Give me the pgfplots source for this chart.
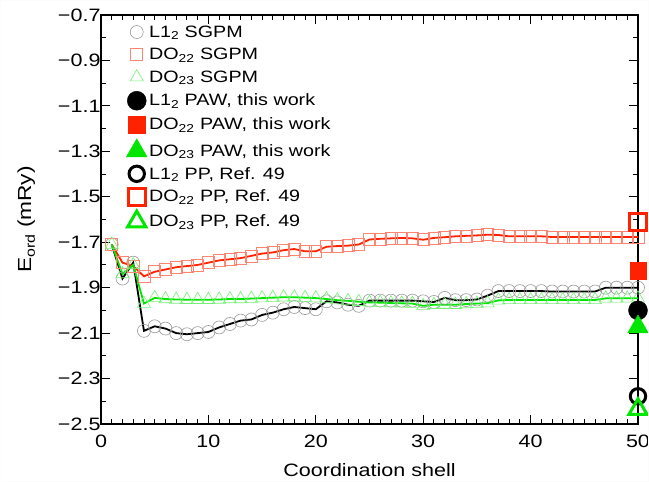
\documentclass[border=0pt]{standalone}
\usepackage{fontspec}
\setmainfont{Liberation Sans}[FakeStretch=1.2]
\usepackage{pgfplots}
\usepackage{pgfplotstable}
\pgfplotsset{compat=1.18}
\definecolor{myred}{RGB}{255,34,0}
\definecolor{mygreen}{RGB}{0,230,0}
\definecolor{edgecol}{RGB}{252,252,252}
\pgfplotstableread{
shell L12 DO22 DO23
1 -1.710 -1.710 -1.710
2 -1.860 -1.790 -1.840
3 -1.790 -1.805 -1.800
4 -2.090 -1.850 -1.970
5 -2.070 -1.830 -1.945
6 -2.080 -1.820 -1.950
7 -2.100 -1.810 -1.952
8 -2.105 -1.805 -1.953
9 -2.100 -1.800 -1.953
10 -2.095 -1.790 -1.953
11 -2.075 -1.780 -1.952
12 -2.060 -1.775 -1.950
13 -2.045 -1.770 -1.950
14 -2.040 -1.760 -1.948
15 -2.020 -1.750 -1.946
16 -2.010 -1.745 -1.944
17 -1.995 -1.735 -1.942
18 -1.985 -1.730 -1.942
19 -1.990 -1.740 -1.944
20 -1.995 -1.740 -1.946
21 -1.960 -1.720 -1.950
22 -1.965 -1.717 -1.955
23 -1.975 -1.715 -1.958
24 -1.980 -1.710 -1.962
25 -1.957 -1.688 -1.965
26 -1.957 -1.685 -1.966
27 -1.957 -1.683 -1.968
28 -1.957 -1.681 -1.969
29 -1.957 -1.683 -1.970
30 -1.960 -1.689 -1.980
31 -1.963 -1.681 -1.975
32 -1.945 -1.678 -1.975
33 -1.955 -1.674 -1.975
34 -1.955 -1.672 -1.972
35 -1.952 -1.670 -1.970
36 -1.935 -1.667 -1.968
37 -1.915 -1.668 -1.956
38 -1.915 -1.674 -1.954
39 -1.915 -1.674 -1.954
40 -1.915 -1.674 -1.954
41 -1.915 -1.674 -1.954
42 -1.917 -1.677 -1.954
43 -1.917 -1.677 -1.954
44 -1.917 -1.677 -1.954
45 -1.917 -1.677 -1.954
46 -1.917 -1.677 -1.954
47 -1.900 -1.677 -1.947
48 -1.900 -1.677 -1.947
49 -1.900 -1.677 -1.947
50 -1.900 -1.677 -1.947
}\sgpm
\begin{document}
\begin{tikzpicture}
\begin{axis}[
  scale only axis, width=537bp, height=409bp,
  xmin=0, xmax=50, ymin=-2.5, ymax=-0.7,
  clip=false,
  xtick={0,10,20,30,40,50},
  ytick={-2.5,-2.3,-2.1,-1.9,-1.7,-1.5,-1.3,-1.1,-0.9,-0.7},
  yticklabels={−2.5,−2.3,−2.1,−1.9,−1.7,−1.5,−1.3,−1.1,−0.9,−0.7},
  minor x tick num=9, minor y tick num=1,
  tick align=inside, major tick length=9bp, minor tick length=5bp,
  axis line style={line width=1.6bp},
  every tick/.style={line width=0.9bp, black},
  /pgf/number format/assume math mode=true,
  tick label style={font=\fontsize{18}{20}\selectfont},
  yticklabel style={xshift=3bp},
  xticklabel style={yshift=-7bp},
  xlabel style={font=\fontsize{18}{20}\selectfont, yshift=-12bp, inner sep=1bp},
  ylabel style={font=\fontsize{19}{21}\selectfont, yshift=16bp},
  xlabel={Coordination shell},
  ylabel={E\textsubscript{ord} (mRy)},
  legend style={draw=none, fill=none, at={(0.045,0.982)}, anchor=north west,
    font=\fontsize{16.5}{18.5}\selectfont, row sep=5.6bp, inner sep=1bp},
  legend cell align=left,
  legend image code/.code={\path[#1] plot coordinates {(0bp,0bp)};},
]
\coordinate (bbsw) at (rel axis cs:0,0);
\coordinate (bbne) at (rel axis cs:1,1);
% SGPM markers
\addplot[only marks, mark=o, mark size=6.5bp, color=black!40, mark options={line width=0.6bp}] table[x=shell,y=L12] {\sgpm};
\addlegendentry{L1\textsubscript{2} SGPM}
\addplot[only marks, mark=square, mark size=6bp, color=myred!55, mark options={line width=0.6bp}] table[x=shell,y=DO22] {\sgpm};
\addlegendentry{DO\textsubscript{22} SGPM}
\addplot[only marks, mark=triangle, mark size=7.5bp, color=mygreen!55, mark options={line width=0.6bp}] table[x=shell,y=DO23] {\sgpm};
\addlegendentry{DO\textsubscript{23} SGPM}
% SGPM lines
\addplot[forget plot, no marks, black, line width=1.8bp] table[x=shell,y=L12] {\sgpm};
\addplot[forget plot, no marks, myred, line width=1.8bp] table[x=shell,y=DO22] {\sgpm};
\addplot[forget plot, no marks, mygreen, line width=1.8bp] table[x=shell,y=DO23] {\sgpm};
% PAW
\addplot[only marks, mark=*, mark size=9.5bp, black, mark options={fill=black}] coordinates {(50,-2.00)};
\addlegendentry{L1\textsubscript{2} PAW, this work}
\addplot[only marks, mark=square*, mark size=8.3bp, myred, mark options={fill=myred}] coordinates {(50,-1.826)};
\addlegendentry{DO\textsubscript{22} PAW, this work}
\addplot[only marks, mark=triangle*, mark size=12bp, mygreen, mark options={fill=mygreen}] coordinates {(50,-2.073)};
\addlegendentry{DO\textsubscript{23} PAW, this work}
% PP
\addplot[only marks, mark=o, mark size=7.7bp, black, mark options={line width=3bp}] coordinates {(50,-2.378)};
\addlegendentry{L1\textsubscript{2} PP, Ref. 49}
\addplot[only marks, mark=square, mark size=8.5bp, myred, mark options={line width=3bp}] coordinates {(50,-1.611)};
\addlegendentry{DO\textsubscript{22} PP, Ref. 49}
\addplot[only marks, mark=triangle, mark size=10.5bp, mygreen, mark options={line width=3bp}] coordinates {(50,-2.435)};
\addlegendentry{DO\textsubscript{23} PP, Ref. 49}
\end{axis}
\pgfresetboundingbox
\draw[edgecol, line width=1bp] ([shift={(-100.5bp,-57.5bp)}]bbsw) rectangle ([shift={(10.5bp,14.5bp)}]bbne);
\end{tikzpicture}
\end{document}
